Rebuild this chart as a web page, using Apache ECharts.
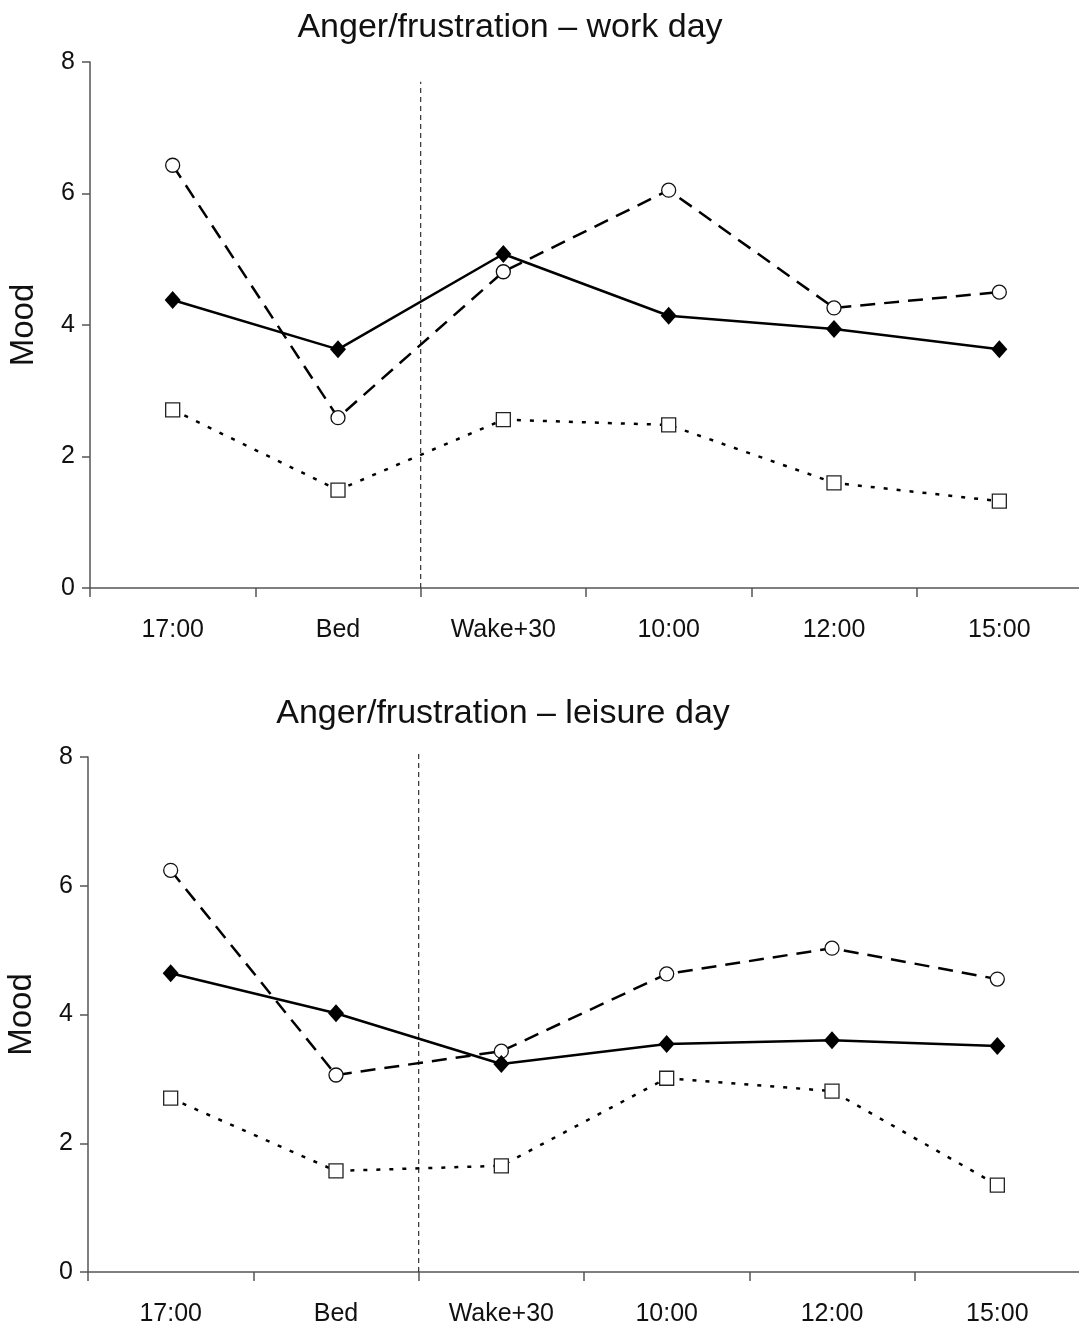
<!DOCTYPE html>
<html>
<head>
<meta charset="utf-8">
<script src="https://cdn.jsdelivr.net/npm/echarts@6/dist/echarts.min.js"></script>
<style>
  html, body { margin: 0; padding: 0; background: #fff; }
  #main { width: 1079px; height: 1328px; }
</style>
</head>
<body>
<div id="main"></div>
<script>
const categories = ['17:00', 'Bed', 'Wake+30', '10:00', '12:00', '15:00'];

// work day
const workDiamond = [4.38, 3.63, 5.08, 4.14, 3.94, 3.63];
const workCircle = [6.43, 2.59, 4.81, 6.05, 4.26, 4.50];
const workSquare = [2.71, 1.49, 2.56, 2.48, 1.60, 1.32];

// leisure day
const leisureDiamond = [4.64, 4.02, 3.23, 3.54, 3.60, 3.51];
const leisureCircle = [6.24, 3.06, 3.43, 4.63, 5.03, 4.55];
const leisureSquare = [2.70, 1.57, 1.65, 3.01, 2.81, 1.35];

// divider between evening and morning (category index 1.5)
const workDivider = [[1.5, 0], [1.5, 7.7]];
const leisureDivider = [[1.5, 0], [1.5, 8.1]];

const titles = ['Anger/frustration \u2013 work day', 'Anger/frustration \u2013 leisure day'];

const FONT = '"Liberation Sans", Arial, sans-serif';
const axisColor = '#555';

const chart = echarts.init(document.getElementById('main'));

function xCat(gridIndex) {
  return {
    type: 'category', gridIndex: gridIndex, data: categories, boundaryGap: true,
    axisLine: {lineStyle: {color: axisColor, width: 1.5}},
    axisTick: {show: true, interval: 0, length: 9, lineStyle: {color: axisColor, width: 1.5}},
    axisLabel: {color: '#111', fontSize: 25, fontFamily: FONT, margin: 30, interval: 0}
  };
}

function xHidden(gridIndex) {
  return {type: 'value', gridIndex: gridIndex, min: -0.5, max: 5.5, show: false};
}

function yVal(gridIndex) {
  return {
    type: 'value', gridIndex: gridIndex, min: 0, max: 8, interval: 2,
    name: 'Mood', nameLocation: 'middle', nameGap: 50, nameRotate: 90,
    nameTextStyle: {color: '#111', fontSize: 33, fontFamily: FONT},
    axisLine: {show: true, onZero: false, lineStyle: {color: axisColor, width: 1.5}},
    axisTick: {show: true, length: 8, lineStyle: {color: axisColor, width: 1.5}},
    axisLabel: {color: '#111', fontSize: 25, fontFamily: FONT, margin: 15},
    splitLine: {show: false}
  };
}

function lines(xi, yi, diamond, circle, square, divider) {
  return [
    {
      type: 'line', xAxisIndex: xi, yAxisIndex: yi, data: diamond,
      symbol: 'diamond', symbolSize: [16, 18],
      itemStyle: {color: '#000'},
      lineStyle: {color: '#000', width: 2.5},
      z: 4
    },
    {
      type: 'line', xAxisIndex: xi, yAxisIndex: yi, data: circle,
      symbol: 'circle', symbolSize: 14,
      itemStyle: {color: '#fff', borderColor: '#111', borderWidth: 1.3},
      lineStyle: {color: '#000', width: 2.5, type: [15, 9]},
      z: 3
    },
    {
      type: 'line', xAxisIndex: xi, yAxisIndex: yi, data: square,
      symbol: 'rect', symbolSize: 14,
      itemStyle: {color: '#fff', borderColor: '#222', borderWidth: 1.3},
      lineStyle: {color: '#000', width: 2.5, type: [4, 9]},
      z: 3
    },
    {
      type: 'line', xAxisIndex: xi + 1, yAxisIndex: yi, data: divider,
      symbol: 'none', clip: false,
      lineStyle: {color: '#333', width: 1.2, type: [5, 4]},
      z: 2
    }
  ];
}

const option = {
  backgroundColor: '#fff',
  animation: false,
  title: [
    {text: titles[0], left: 505, top: 6, textAlign: 'center',
     textStyle: {fontSize: 34, fontWeight: 'normal', color: '#111', fontFamily: FONT}},
    {text: titles[1], left: 498, top: 692, textAlign: 'center',
     textStyle: {fontSize: 34, fontWeight: 'normal', color: '#111', fontFamily: FONT}}
  ],
  grid: [
    {left: 90, top: 62, width: 992, height: 526, outerBoundsMode: 'none', containLabel: false},
    {left: 88, top: 757, width: 992, height: 515, outerBoundsMode: 'none', containLabel: false}
  ],
  xAxis: [xCat(0), xHidden(0), xCat(1), xHidden(1)],
  yAxis: [yVal(0), yVal(1)],
  series: [
    ...lines(0, 0, workDiamond, workCircle, workSquare, workDivider),
    ...lines(2, 1, leisureDiamond, leisureCircle, leisureSquare, leisureDivider)
  ]
};

chart.setOption(option);
</script>
</body>
</html>
